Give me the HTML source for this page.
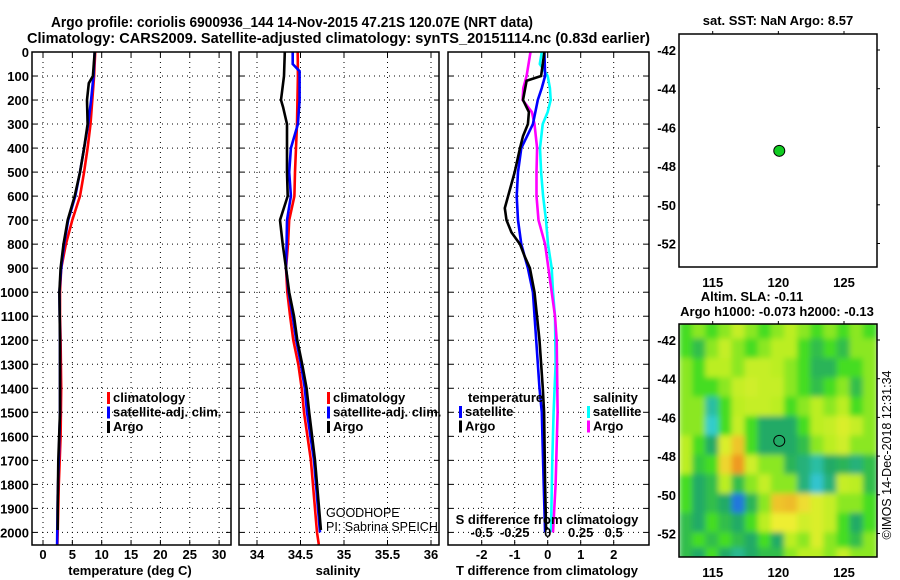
<!DOCTYPE html>
<html><head><meta charset="utf-8"><style>
html,body{margin:0;padding:0;background:#fff}
svg{display:block}
text{font-family:"Liberation Sans",Arial,sans-serif;font-weight:bold;font-size:13px;fill:#000}
text.norm{font-weight:normal}
.grid{stroke:#000;stroke-width:1;stroke-dasharray:1 4}
.ax{fill:none;stroke:#000;stroke-width:1.5}
</style></head><body>
<svg id="fig" width="900" height="580" viewBox="0 0 900 580">
<text x="51" y="27" textLength="482" lengthAdjust="spacingAndGlyphs" font-size="15" style="font-size:15px">Argo profile: coriolis 6900936_144 14-Nov-2015 47.21S 120.07E (NRT data)</text>
<text x="27" y="43" textLength="623" lengthAdjust="spacingAndGlyphs" style="font-size:15px">Climatology: CARS2009. Satellite-adjusted climatology: synTS_20151114.nc (0.83d earlier)</text>
<g id="plots"></g>
</svg>
<script>
// ---------- data ----------
const depthTicks=[0,100,200,300,400,500,600,700,800,900,1000,1100,1200,1300,1400,1500,1600,1700,1800,1900,2000];
const tempTicks=[0,5,10,15,20,25,30];
const salTicks=[34,34.5,35,35.5,36];
const tdiffTicks=[-2,-1,0,1,2];
const sdiffTicks=[-0.5,-0.25,0,0.25,0.5];
const sdiffTickLabels=["-0.5","-0.25","0","0.25","0.5"];
// temperature profiles
const tClimDepth=[0,100,200,300,400,500,600,700,800,900,1000,1100,1200,1400,1600,1800,2000,2050];
const tClim=[8.9,8.7,8.4,8.1,7.6,7.0,6.3,5.0,3.9,3.1,2.9,2.9,3.0,3.1,3.0,2.7,2.5,2.45];
const tSatDepth=[0,100,200,300,400,500,600,700,800,900,1000,1200,1500,1700,1850,2050];
const tSat=[8.8,8.6,8.2,7.7,7.0,6.3,5.5,4.3,3.6,3.1,2.8,2.9,2.9,2.7,2.5,2.4];
const tArgoDepth=[0,100,130,200,300,400,500,600,700,800,900,1000,1200,1500,1700,1900,1990];
const tArgo=[8.8,8.5,7.8,7.5,7.6,7.0,6.3,5.4,4.2,3.5,3.0,2.8,2.9,2.9,2.6,2.5,2.5];
// salinity profiles
const sClimDepth=[0,100,300,500,600,700,800,900,1000,1100,1200,1300,1400,1500,1700,2000,2050];
const sClim=[34.468,34.47,34.46,34.437,34.43,34.37,34.356,34.333,34.348,34.38,34.417,34.475,34.514,34.54,34.62,34.69,34.71];
const sSatDepth=[0,50,80,200,300,400,500,600,700,800,900,1000,1100,1200,1300,1400,1500,1700,2000];
const sSat=[34.41,34.41,34.49,34.49,34.47,34.39,34.37,34.39,34.345,34.34,34.333,34.364,34.41,34.45,34.506,34.55,34.575,34.655,34.724];
const sArgoDepth=[0,100,200,230,300,500,600,700,800,900,1000,1100,1200,1300,1400,1500,1700,1990];
const sArgo=[34.32,34.31,34.276,34.30,34.345,34.345,34.353,34.264,34.295,34.333,34.37,34.425,34.463,34.52,34.57,34.6,34.667,34.735];
// differences from climatology
const dTArgoDepth=[0,100,120,200,250,300,350,400,500,600,650,700,750,800,850,900,1000,1200,1400,1500,1800,1990];
const dTArgo=[-0.1,-0.2,-0.64,-0.75,-0.57,-0.6,-0.75,-0.84,-1.0,-1.2,-1.3,-1.25,-1.1,-0.84,-0.7,-0.54,-0.4,-0.25,-0.15,-0.11,-0.08,-0.05];
const dTSatDepth=[0,100,150,200,300,400,500,600,700,800,900,1000,1200,1400,1500,1800,2000];
const dTSat=[-0.1,-0.08,-0.18,-0.3,-0.45,-0.8,-0.9,-0.94,-0.9,-0.8,-0.6,-0.45,-0.35,-0.25,-0.18,-0.12,-0.08];
const dSSatDepth=[0,50,100,150,200,250,300,400,500,600,700,800,900,1000,1100,1300,1500,1700,2000];
const dSSat=[-0.045,-0.06,0.0,0.017,0.023,0.0,-0.038,-0.058,-0.05,-0.035,-0.013,0.002,0.03,0.04,0.055,0.06,0.045,0.035,0.025];
const dSArgoDepth=[0,100,150,200,250,300,400,500,600,700,800,900,1000,1100,1200,1500,1800,2000];
const dSArgo=[-0.13,-0.16,-0.185,-0.19,-0.12,-0.1,-0.08,-0.085,-0.085,-0.07,-0.02,0.005,0.03,0.055,0.068,0.075,0.06,0.04];
// maps
const lonTicks=[115,120,125];
const latTicks=[-42,-44,-46,-48,-50,-52];
const argoLon=120.07, argoLat=-47.21;
const slaLons=[113,114,115,116,117,118,119,120,121,122,123,124,125,126,127];
const slaLats=[-41.5,-42.5,-43.5,-44.5,-45.5,-46.5,-47.5,-48.5,-49.5,-50.5,-51.5,-52.5,-53.3];
const sla=[
[0,0.3,0,0.3,0.6,0.3,0,0.3,0.5,0.3,0,0.3,0,0.3,0],
[0,-0.3,0.3,0.6,0.3,0,0.3,0.5,0.5,0,-0.3,0,-0.3,0.3,0.3],
[0.3,0,0.5,0.5,0.3,0.6,0.6,0.5,0.3,0,-0.4,-0.4,0,0,0.3],
[0.3,0,0,0.3,0.6,0.7,0.6,0.6,0.3,0,-0.3,0,0.3,-0.3,0.3],
[0.3,0.3,-0.8,0,0.5,0.6,0.6,0.5,0,0.3,0.5,0.3,0.5,0,0.3],
[0.3,0.3,-1,0,0.6,0,-0.5,-0.5,-0.5,0,0.5,0.6,0.8,0.6,0.3],
[0.5,0,-0.5,0.8,1.5,0,-0.5,-0.5,-0.5,-0.3,0.3,0.5,0.7,0.3,0.3],
[0.5,-0.2,0,1.3,2,0.7,0.3,0.3,-0.4,-0.6,-0.8,-0.5,-0.4,-0.6,-0.3],
[0,-0.5,-0.3,0.5,-0.3,0.3,0.6,0.3,0.3,-0.6,-1.1,-0.6,0.6,0.5,-0.3],
[0,-0.5,-0.3,-0.5,-2,-0.4,0.3,1.5,1.6,1.2,0.8,0.6,0.3,0.3,0],
[-0.3,-0.5,0,-0.3,-0.5,0,0.5,1,1,0.7,0.8,0.6,0,-0.5,0],
[-0.3,0,-0.3,0,-0.3,-0.5,0,-0.5,0.5,0.3,0.8,0.3,0,-0.3,0.3],
[-0.3,-0.5,0,-0.5,-0.7,-0.5,-0.3,-0.3,0.3,0.5,0.5,0.3,0.6,0.3,0.3]];

// ---------- helpers ----------
const NS="http://www.w3.org/2000/svg";
const root=document.getElementById('plots');
function mk(tag,attrs,parent,txt){const e=document.createElementNS(NS,tag);for(const k in attrs)e.setAttribute(k,attrs[k]);if(txt!==undefined)e.textContent=txt;(parent||root).appendChild(e);return e;}
const Y0=52, YS=0.2402;
const yD=d=>Y0+d*YS;
const PB=545;
const xT=t=>43+5.87*t;
const xS=s=>257+(s-34)*87;
const xdT=t=>547.7+33*t;
const xdS=s=>547.7+132*s;

function panel(x0,x1,name,vgrid){
  const g=mk('g',{});
  
  
  depthTicks.forEach(d=>{mk('line',{x1:x0,x2:x1,y1:yD(d),y2:yD(d),class:'grid'},g);});
  vgrid.forEach(x=>mk('line',{x1:x,x2:x,y1:Y0,y2:PB,class:'grid'},g));
  depthTicks.forEach(d=>{mk('line',{x1:x0,x2:x0+5,y1:yD(d),y2:yD(d),stroke:'#000'},g);mk('line',{x1:x1-5,x2:x1,y1:yD(d),y2:yD(d),stroke:'#000'},g);});
  vgrid.forEach(x=>{mk('line',{x1:x,x2:x,y1:PB,y2:PB-5,stroke:'#000'},g);mk('line',{x1:x,x2:x,y1:Y0,y2:Y0+5,stroke:'#000'},g);});
  return g;
}
function line(g,xs,ds,fx,color,name){
  const pts=xs.map((v,i)=>fx(v).toFixed(1)+','+yD(ds[i]).toFixed(1)).join(' ');
  const p=mk('polyline',{points:pts,fill:'none',stroke:color,'stroke-width':2.6,'stroke-linejoin':'miter'},g);
  
  
}
function frame(g,x0,x1){mk('rect',{x:x0,y:Y0,width:x1-x0,height:PB-Y0,class:'ax'},g);}
function legend(g,x,y,items){
  items.forEach((it,i)=>{
    const yy=y+i*14.5;
    const b=mk('rect',{x:x,y:yy-10,width:3,height:12,fill:it[1]},g);
    
    
    const t=mk('text',{x:x+6,y:yy},g,it[0]);
    
    
  });
}

const yl=mk('g',{});


depthTicks.forEach(d=>mk('text',{x:29,y:yD(d)+5,'text-anchor':'end'},yl,String(d)));

// panel 1 temperature
const p1=panel(32,231,'temperature-panel',tempTicks.map(xT));
line(p1,tClim,tClimDepth,xT,'#f00','temp-climatology-line');
line(p1,tSat,tSatDepth,xT,'#00f','temp-satellite-line');
line(p1,tArgo,tArgoDepth,xT,'#000','temp-argo-line');
frame(p1,32,231);
tempTicks.forEach(t=>mk('text',{x:xT(t),y:559,'text-anchor':'middle'},p1,String(t)));
const xt1=mk('text',{x:130,y:575,'text-anchor':'middle'},p1,'temperature (deg C)');


legend(p1,107,402,[['climatology','#f00'],['satellite-adj. clim.','#00f'],['Argo','#000']]);

// panel 2 salinity
const p2=panel(239,439,'salinity-panel',salTicks.map(xS));
line(p2,sClim,sClimDepth,xS,'#f00','sal-climatology-line');
line(p2,sSat,sSatDepth,xS,'#00f','sal-satellite-line');
line(p2,sArgo,sArgoDepth,xS,'#000','sal-argo-line');
frame(p2,239,439);
salTicks.forEach(t=>mk('text',{x:xS(t),y:559,'text-anchor':'middle'},p2,String(t)));
const xt2=mk('text',{x:338,y:575,'text-anchor':'middle'},p2,'salinity');


legend(p2,327,402,[['climatology','#f00'],['satellite-adj. clim.','#00f'],['Argo','#000']]);
mk('text',{x:326,y:517,class:'norm',style:'font-size:12.5px'},p2,'GOODHOPE');
mk('text',{x:326,y:531,class:'norm',style:'font-size:12.5px'},p2,'PI: Sabrina SPEICH');

// panel 3 differences
const p3=panel(448,649,'difference-panel',tdiffTicks.map(xdT));
line(p3,dSSat,dSSatDepth,xdS,'#0ff','sdiff-satellite-line');
line(p3,dSArgo,dSArgoDepth,xdS,'#f0f','sdiff-argo-line');
line(p3,dTSat,dTSatDepth,xdT,'#00f','tdiff-satellite-line');
line(p3,dTArgo,dTArgoDepth,xdT,'#000','tdiff-argo-line');
frame(p3,448,649);
tdiffTicks.forEach(t=>mk('text',{x:xdT(t),y:559,'text-anchor':'middle'},p3,String(t)));
sdiffTicks.forEach((s,i)=>mk('text',{x:xdS(s),y:537,'text-anchor':'middle'},p3,sdiffTickLabels[i]));
mk('text',{x:547,y:524,'text-anchor':'middle'},p3,'S difference from climatology');
const xt3=mk('text',{x:547,y:575,'text-anchor':'middle'},p3,'T difference from climatology');


mk('text',{x:468,y:402},p3,'temperature');
legend(p3,459,416,[['satellite','#00f'],['Argo','#000']]);
mk('text',{x:593,y:402},p3,'salinity');
legend(p3,587,416,[['satellite','#0ff'],['Argo','#f0f']]);

// maps
const MX0=679,MX1=877;
const xL=l=>712.7+(l-115)*13.13;
function map(y0,y1,lat42,name){
  const yLat=la=>lat42+(-42-la)*19.35;
  const g=mk('g',{});
  
  
  return {g,yLat,y0,y1};
}
function mapAxes(m){
  const {g,yLat,y0,y1}=m;
  mk('rect',{x:MX0,y:y0,width:MX1-MX0,height:y1-y0,class:'ax'},g);
  lonTicks.forEach(l=>{mk('line',{x1:xL(l),x2:xL(l),y1:y0-3,y2:y0,stroke:'#000'},g);
    mk('text',{x:xL(l),y:y1+20,'text-anchor':'middle'},g,String(l));});
  latTicks.forEach(la=>{mk('line',{x1:MX1,x2:MX1+3,y1:yLat(la),y2:yLat(la),stroke:'#000'},g);
    mk('text',{x:676,y:yLat(la)+5,'text-anchor':'end'},g,String(la));});
}
const m1=map(34,267,50,'sst-map');
mapAxes(m1);
const dot=mk('circle',{cx:xL(argoLon),cy:m1.yLat(argoLat),r:5.5,fill:'#11cc22',stroke:'#000','stroke-width':1},m1.g);


mk('text',{x:778,y:25,'text-anchor':'middle'},m1.g,'sat. SST: NaN Argo: 8.57');

const m2=map(324,557,340,'sla-map');
const cols=[[-2,[34,119,221]],[-1,[51,204,204]],[-0.5,[34,170,102]],[0,[68,221,34]],[0.5,[187,238,34]],[1,[238,238,51]],[2,[238,153,34]]];
function colr(v){if(v<=cols[0][0])return cols[0][1];for(let i=1;i<cols.length;i++){if(v<=cols[i][0]){const a=cols[i-1],b=cols[i],f=(v-a[0])/(b[0]-a[0]);return a[1].map((c,k)=>Math.round(c+(b[1][k]-c)*f));}}return cols[cols.length-1][1];}
const defs=mk('defs',{},m2.g);
const cp=mk('clipPath',{id:'mc'},defs);mk('rect',{x:MX0,y:324,width:MX1-MX0,height:233},cp);
const fl=mk('filter',{id:'bl',x:'-10%',y:'-10%',width:'120%',height:'120%'},defs);mk('feGaussianBlur',{stdDeviation:3},fl);
const cg=mk('g',{'clip-path':'url(#mc)'},m2.g);
const hg=mk('g',{filter:'url(#bl)'},cg);
sla.forEach((row,r)=>row.forEach((v,c)=>{
  const cx=xL(slaLons[c]),cy=m2.yLat(slaLats[r]);
  const cell=mk('rect',{x:cx-7.5,y:cy-11,width:15,height:22,fill:'rgb('+colr(v).join(',')+')'},hg);
  
  
}));
mapAxes(m2);
const c2=mk('circle',{cx:xL(argoLon),cy:m2.yLat(argoLat),r:5.5,fill:'none',stroke:'#000','stroke-width':1},m2.g);


mk('text',{x:752,y:301,'text-anchor':'middle'},m2.g,'Altim. SLA: -0.11');
mk('text',{x:777,y:316,'text-anchor':'middle'},m2.g,'Argo h1000: -0.073 h2000: -0.13');
mk('text',{x:891,y:455,'text-anchor':'middle',class:'norm',style:'font-size:12.5px',transform:'rotate(-90 891 455)'},m2.g,'©IMOS 14-Dec-2018 12:31:34');
</script>
</body></html>
